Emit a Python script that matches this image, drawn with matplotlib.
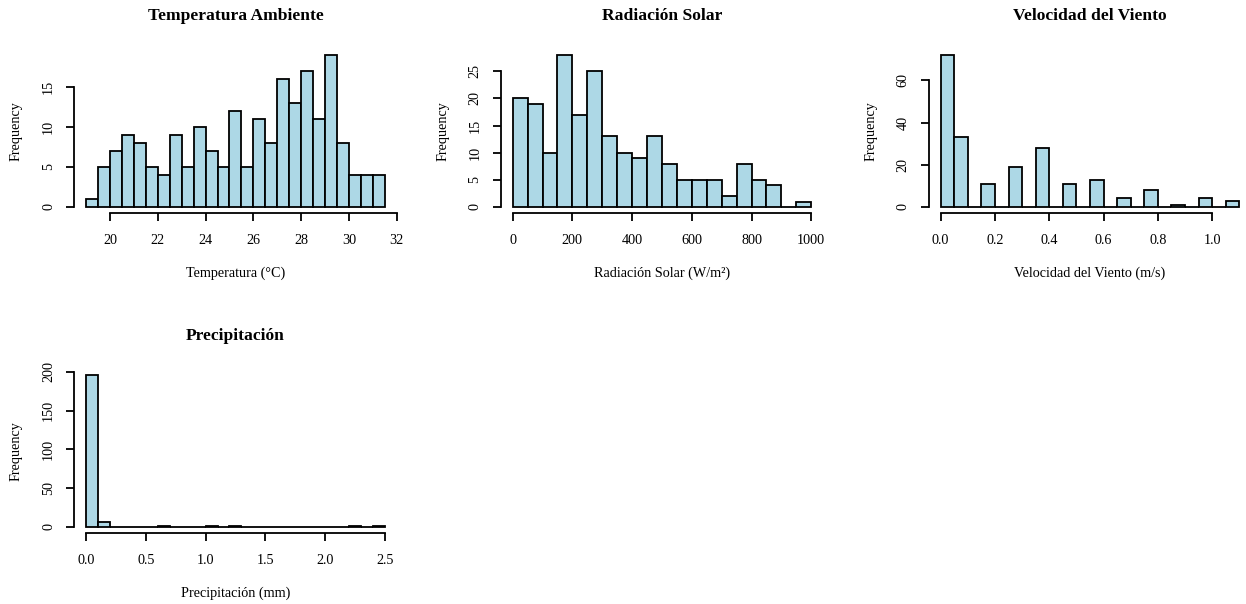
import numpy as np
import matplotlib
matplotlib.use("Agg")
import matplotlib.pyplot as plt

plt.rcParams['font.family'] = ['Liberation Serif', 'DejaVu Serif']

# Histogram counts per bin (bin start, bin width, counts)
temp_start, temp_width = 19.0, 0.5
temp_counts = [1, 5, 7, 9, 8, 5, 4, 9, 5, 10, 7, 5, 12, 5, 11, 8, 16, 13, 17, 11, 19, 8, 4, 4, 4]

rad_start, rad_width = 0.0, 50.0
rad_counts = [20, 19, 10, 28, 17, 25, 13, 10, 9, 13, 8, 5, 5, 5, 2, 8, 5, 4, 0, 1]

wind_start, wind_width = 0.0, 0.05
wind_counts = [72, 33, 0, 11, 0, 19, 0, 28, 0, 11, 0, 13, 0, 4, 0, 8, 0, 1, 0, 4, 0, 3]

prec_start, prec_width = 0.0, 0.1
prec_counts = [196, 6, 0, 0, 0, 0, 1, 0, 0, 0, 1, 0, 1, 0, 0, 0, 0, 0, 0, 0, 0, 0, 1, 0, 1]

titles = ["Temperatura Ambiente", "Radiación Solar", "Velocidad del Viento", "Precipitación"]
xlabels = ["Temperatura (°C)", "Radiación Solar (W/m²)", "Velocidad del Viento (m/s)", "Precipitación (mm)"]

temp_xticks = [20, 22, 24, 26, 28, 30, 32]
temp_yticks = [0, 5, 10, 15]
rad_xticks = [0, 200, 400, 600, 800, 1000]
rad_yticks = [0, 5, 10, 15, 20, 25]
wind_xticks = [0.0, 0.2, 0.4, 0.6, 0.8, 1.0]
wind_xticklabels = ["0.0", "0.2", "0.4", "0.6", "0.8", "1.0"]
wind_yticks = [0, 20, 40, 60]
prec_xticks = [0.0, 0.5, 1.0, 1.5, 2.0, 2.5]
prec_xticklabels = ["0.0", "0.5", "1.0", "1.5", "2.0", "2.5"]
prec_yticks = [0, 50, 100, 150, 200]

W, H = 1246, 604
fig = plt.figure(figsize=(W / 100, H / 100), dpi=100)
fig.patch.set_facecolor("white")

FILL = "#ADD8E6"
LW = 1.3
FS = 10.2


def panel(left, top, width, height, start, bw, counts, xticks, xticklabels,
          yticks, title, xlabel):
    ax = fig.add_axes([left / W, 1 - (top + height) / H, width / W, height / H])
    counts = np.asarray(counts)
    edges = start + bw * np.arange(len(counts) + 1)
    ax.bar(edges[:-1], counts, width=bw, align="edge", color=FILL,
           edgecolor="black", linewidth=LW)
    lo, hi = edges[0], edges[-1]
    pad = 0.04 * (hi - lo)
    ax.set_xlim(lo - pad, hi + pad)
    ymax = counts.max()
    ax.set_ylim(-0.04 * ymax, 1.04 * ymax)
    for s in ("top", "right"):
        ax.spines[s].set_visible(False)
    for s in ("left", "bottom"):
        ax.spines[s].set_linewidth(LW)
    ax.spines["bottom"].set_bounds(xticks[0], xticks[-1])
    ax.spines["left"].set_bounds(yticks[0], yticks[-1])
    ax.set_xticks(xticks)
    ax.set_xticklabels(xticklabels if xticklabels else [str(t) for t in xticks])
    ax.set_yticks(yticks)
    ax.set_yticklabels([str(t) for t in yticks], rotation=90, va="center")
    ax.tick_params(axis="both", length=5.8, width=LW, labelsize=FS, direction="out")
    ax.tick_params(axis="x", pad=9.5)
    ax.tick_params(axis="y", pad=8)
    ax.patch.set_visible(False)
    cx = left + width / 2
    fig.text(cx / W, 1 - (top - 33) / H, title, ha="center", va="center",
             fontsize=12.6, fontweight="bold")
    fig.text(cx / W, 1 - (top + height + 60) / H, xlabel, ha="center", va="center",
             fontsize=FS)
    fig.text((left - 58) / W, 1 - (top + height / 2) / H, "Frequency", ha="center",
             va="center", rotation=90, fontsize=FS)
    return ax


PW, PH = 322.5, 164
panel(74.2, 49, PW, PH, temp_start, temp_width, temp_counts, temp_xticks, None,
      temp_yticks, titles[0], xlabels[0])
panel(500.7, 49, PW, PH, rad_start, rad_width, rad_counts, rad_xticks, None,
      rad_yticks, titles[1], xlabels[1])
panel(928.7, 49, PW, PH, wind_start, wind_width, wind_counts, wind_xticks,
      wind_xticklabels, wind_yticks, titles[2], xlabels[2])
panel(74.2, 369, PW, PH, prec_start, prec_width, prec_counts, prec_xticks,
      prec_xticklabels, prec_yticks, titles[3], xlabels[3])

fig.savefig("out.png", dpi=100)
